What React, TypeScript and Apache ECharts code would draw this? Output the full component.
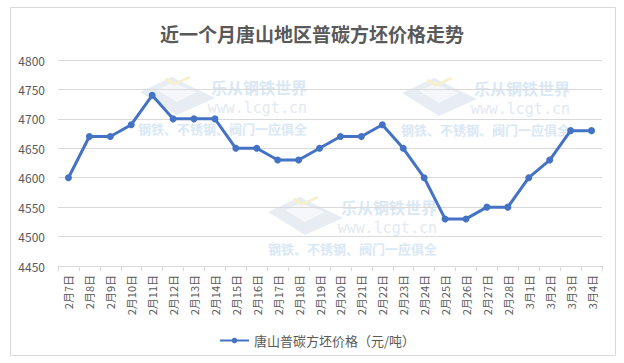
import React, { useEffect, useRef } from "react";
import * as echarts from "echarts";

const categories = [
  "2月7日", "2月8日", "2月9日", "2月10日", "2月11日", "2月12日", "2月13日", "2月14日",
  "2月15日", "2月16日", "2月17日", "2月18日", "2月19日", "2月20日", "2月21日", "2月22日",
  "2月23日", "2月24日", "2月25日", "2月26日", "2月27日", "2月28日", "3月1日", "3月2日",
  "3月3日", "3月4日",
];
const prices = [
  4600, 4670, 4670, 4690, 4740, 4700, 4700, 4700, 4650, 4650, 4630, 4630, 4650,
  4670, 4670, 4690, 4650, 4600, 4530, 4530, 4550, 4550, 4600, 4630, 4680, 4680,
];
const seriesName = "唐山普碳方坯价格（元/吨）";
const titleText = "近一个月唐山地区普碳方坯价格走势";
const watermarkLines = ["乐从钢铁世界", "www.lcgt.cn", "钢铁、不锈钢、阀门一应俱全"];

const FONT = "'Noto Sans CJK SC', 'Noto Sans', sans-serif";

function watermark(lx: number, ly: number, rightX: number) {
  return {
    type: "group",
    z: -1,
    silent: true,
    children: [
      {
        type: "polygon",
        shape: { points: [[lx, ly + 15], [lx + 32, ly], [lx + 75, ly + 21], [lx + 37, ly + 38]] },
        style: { fill: "#e8edf4" },
      },
      {
        type: "polygon",
        shape: { points: [[lx + 17, ly + 13], [lx + 32, ly + 6], [lx + 57, ly + 15], [lx + 37, ly + 25]] },
        style: { fill: "#f5f7fa" },
      },
      {
        type: "polyline",
        shape: { points: [[lx + 25, ly + 2], [lx + 34, ly + 7], [lx + 50, ly]] },
        style: { stroke: "#f7f0cc", lineWidth: 3, fill: null },
      },
      {
        type: "text",
        x: rightX,
        y: ly + 10,
        style: {
          text: watermarkLines[0], fill: "#dae8f6", font: `bold 16px ${FONT}`,
          align: "right", verticalAlign: "middle",
        },
      },
      {
        type: "text",
        x: rightX,
        y: ly + 31,
        style: {
          text: watermarkLines[1], fill: "#e3e9f2", font: `15px 'DejaVu Sans Mono', monospace`,
          align: "right", verticalAlign: "middle",
        },
      },
      {
        type: "text",
        x: rightX,
        y: ly + 51,
        style: {
          text: watermarkLines[2], fill: "#dae8f6", font: `bold 13px ${FONT}`,
          align: "right", verticalAlign: "middle",
        },
      },
    ],
  };
}

export default function App() {
  const ref = useRef<HTMLDivElement>(null);
  useEffect(() => {
    document.body.style.margin = "0";
    const chart = echarts.init(ref.current!, null, { renderer: "svg" });
    chart.setOption({
      animation: false,
      backgroundColor: "#ffffff",
      textStyle: { fontFamily: FONT },
      title: {
        text: titleText,
        left: "center",
        top: 19,
        textStyle: { fontSize: 19, fontWeight: "bold", color: "#595959", fontFamily: FONT },
      },
      graphic: [
        {
          type: "rect",
          z: -2,
          silent: true,
          shape: { x: 10.5, y: 7.5, width: 605, height: 348 },
          style: { fill: null, stroke: "#d9d9d9", lineWidth: 1 },
        },
        watermark(140, 77, 307),
        watermark(402, 78, 570),
        watermark(268, 197, 437),
      ],
      legend: {
        left: 214,
        top: 329,
        itemWidth: 29,
        itemHeight: 7,
        itemGap: 10,
        textStyle: { fontSize: 13, color: "#595959", fontFamily: FONT },
        data: [{ name: seriesName }],
      },
      grid: { left: 58, right: 22, top: 60, bottom: 97, containLabel: false },
      xAxis: {
        type: "category",
        data: categories,
        boundaryGap: true,
        axisLine: { lineStyle: { color: "#d9d9d9" } },
        axisTick: { show: true, length: 5, lineStyle: { color: "#d9d9d9" }, alignWithLabel: false },
        axisLabel: { rotate: 90, fontSize: 11, color: "#595959", margin: 9, interval: 0, fontFamily: FONT },
      },
      yAxis: {
        type: "value",
        min: 4450,
        max: 4800,
        interval: 50,
        axisLine: { show: false },
        axisTick: { show: false },
        axisLabel: {
          fontSize: 12, color: "#595959", margin: 13, fontFamily: FONT,
          formatter: (v: number) => String(v),
        },
        splitLine: { lineStyle: { color: "#d9d9d9" } },
      },
      series: [
        {
          name: seriesName,
          type: "line",
          data: prices,
          symbol: "circle",
          symbolSize: 7,
          lineStyle: { color: "#4472c4", width: 3 },
          itemStyle: { color: "#4472c4" },
          z: 3,
        },
      ],
    });
    return () => chart.dispose();
  }, []);
  return <div ref={ref} style={{ width: 624, height: 363 }} />;
}
